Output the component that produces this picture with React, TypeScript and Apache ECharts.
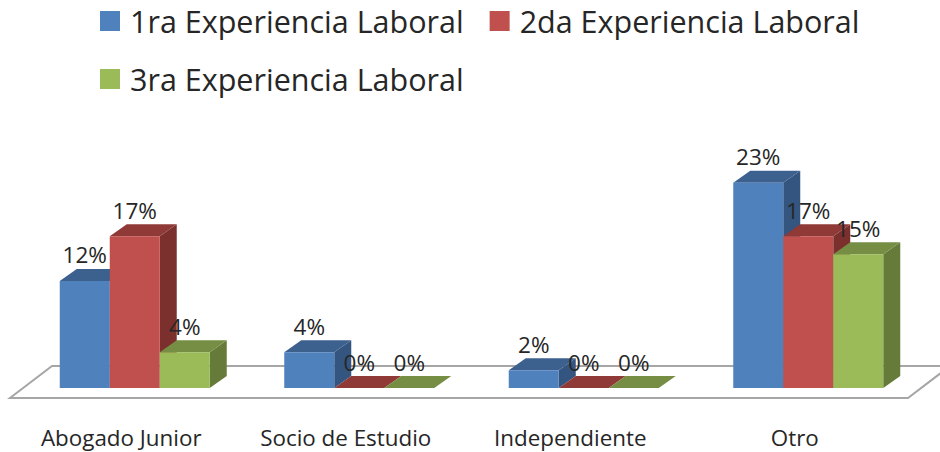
import React, { useEffect, useRef } from "react";
import * as echarts from "echarts";

const categories = ["Abogado Junior", "Socio de Estudio", "Independiente", "Otro"];
const seriesNames = ["1ra Experiencia Laboral", "2da Experiencia Laboral", "3ra Experiencia Laboral"];
const primera = [12, 4, 2, 23];
const segunda = [17, 0, 0, 17];
const tercera = [4, 0, 0, 15];

const FRONT = ["#4F81BD", "#C0504D", "#9BBB59"];
const TOP = ["#3D618F", "#8F3A37", "#768E44"];
const SIDE = ["#34557F", "#7B302E", "#667B39"];

const FONT = "'Open Sans', Lato, sans-serif";
const BAR_W = 50;
const DX = 17;
const DY = 12;
const GROUP_SHIFT = 13.5;

function renderBar(seriesPos: number) {
  return (_params: any, api: any) => {
    const idx = api.value(0);
    const val = api.value(1);
    const base = api.coord([idx, 0]);
    const top = api.coord([idx, val]);
    const x = base[0] + GROUP_SHIFT + (seriesPos - 1.5) * BAR_W;
    const y0 = base[1];
    const y1 = top[1];
    const children: any[] = [];
    if (val > 0) {
      children.push({
        type: "polygon",
        shape: { points: [[x + BAR_W, y0], [x + BAR_W + DX, y0 - DY], [x + BAR_W + DX, y1 - DY], [x + BAR_W, y1]] },
        style: { fill: SIDE[seriesPos] },
      });
    }
    children.push({
      type: "polygon",
      shape: { points: [[x, y1], [x + DX, y1 - DY], [x + BAR_W + DX, y1 - DY], [x + BAR_W, y1]] },
      style: { fill: TOP[seriesPos] },
    });
    if (val > 0) {
      children.push({
        type: "rect",
        shape: { x, y: y1, width: BAR_W, height: y0 - y1 },
        style: { fill: FRONT[seriesPos] },
      });
    }
    children.push({
      type: "text",
      z2: 100,
      style: {
        x: x + BAR_W / 2,
        y: y1 - 26,
        text: `${val}%`,
        align: "center",
        verticalAlign: "middle",
        fill: "#262626",
        font: `22.5px ${FONT}`,
      },
    });
    return { type: "group", children };
  };
}

const seriesData = [primera, segunda, tercera];

export default function App() {
  const ref = useRef<HTMLDivElement>(null);
  useEffect(() => {
    const chart = echarts.init(ref.current!, undefined, { renderer: "svg" });
    chart.setOption({
      animation: false,
      backgroundColor: "#ffffff",
      legend: {
        data: seriesNames.map((name) => ({ name, icon: "rect" })),
        left: 100,
        top: 5,
        width: 820,
        padding: 0,
        itemWidth: 20,
        itemHeight: 20,
        itemGap: 26,
        selectedMode: false,
        textStyle: { fontFamily: FONT, fontSize: 30.5, color: "#262626", lineHeight: 32, padding: [0, 0, 0, 5] },
      },
      grid: { left: 9, right: 33, bottom: 64, height: 223 },
      xAxis: {
        type: "category",
        data: categories,
        axisLine: { show: false },
        axisTick: { show: false },
        axisLabel: { margin: 38, fontFamily: FONT, fontSize: 22.4, color: "#262626", interval: 0 },
      },
      yAxis: { type: "value", min: 0, max: 25, show: false },
      graphic: [
        {
          type: "polyline",
          z: 0,
          silent: true,
          shape: { points: [[950, 366], [52, 366], [10, 398], [908, 398], [950, 366]] },
          style: { fill: "#ffffff", stroke: "#A6A6A6", lineWidth: 2 },
        },
      ],
      series: seriesNames.map((name, i) => ({
        name,
        type: "custom",
        z: 5 + i,
        itemStyle: { color: FRONT[i] },
        encode: { x: 0, y: 1 },
        clip: false,
        data: seriesData[i].map((v, k) => [k, v]),
        renderItem: renderBar(i),
      })),
    });
    return () => chart.dispose();
  }, []);
  return <div ref={ref} style={{ position: "absolute", left: 0, top: 0, width: 940, height: 452 }} />;
}
